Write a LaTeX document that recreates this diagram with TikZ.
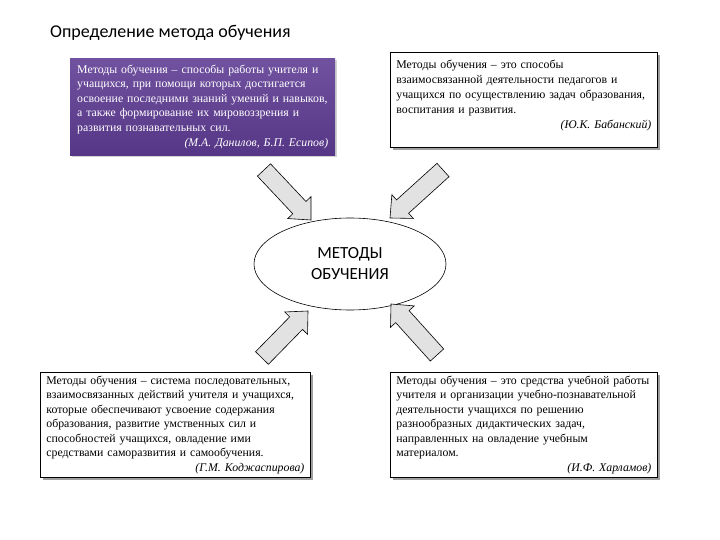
\documentclass[tikz,border=0pt]{standalone}
\usepackage{fontspec}
\setmainfont{Liberation Serif}
\newfontfamily\calib{Carlito}
\usetikzlibrary{shapes.geometric,shadows,calc}
\definecolor{purpTop}{RGB}{112,82,160}
\definecolor{purpBot}{RGB}{86,54,134}
\definecolor{arrFill}{RGB}{226,226,226}
\newcommand\myarrow[2]{%
  \coordinate (s) at ($(#2)!17pt!(#1)$);
  \draw[barrow] ($(#1)!9pt!90:(#2)$) -- ($(s)!9pt!90:(#2)$) -- ($(s)!16pt!90:(#2)$)
    -- (#2) -- ($(s)!16pt!-90:(#2)$) -- ($(s)!9pt!-90:(#2)$) -- ($(#1)!9pt!-90:(#2)$) -- cycle;}
\newcommand\lowstrut[1]{\rule[-#1]{0pt}{#1}}
\begin{document}
\begin{tikzpicture}[x=1pt,y=-1pt,
  defbox/.style={draw=black, line width=0.8pt, fill=white, anchor=north west, align=left,
    inner xsep=6pt, inner ysep=3pt,
    drop shadow={shadow xshift=2.5pt, shadow yshift=-2.5pt, fill=black!75}},
  purpbox/.style={anchor=north west, align=left, text=white, top color=purpTop, bottom color=purpBot,
    inner xsep=7pt, inner ysep=3pt,
    drop shadow={shadow xshift=1.5pt, shadow yshift=-2pt, fill=black!35}},
  barrow/.style={draw=black, line width=0.6pt, fill=arrFill, line join=miter},
  core/.style={draw=black, line width=0.6pt, ellipse, minimum width=192pt, minimum height=92pt, align=center}
]
\useasboundingbox (0,0) rectangle (720,540);

\node[anchor=west, inner sep=0pt, font=\calib\fontsize{18}{21}\selectfont] (title) at (50,33) {Определение метода обучения};

\node[purpbox, minimum width=265pt, minimum height=97pt, text width=251pt,
  font=\fontsize{11.8}{14.6}\selectfont] (danilov) at (70,58)
{Методы обучения – способы работы учителя и\\
учащихся, при помощи которых достигается\\
освоение последними знаний умений и навыков,\\
а также формирование их мировоззрения и\\
развития познавательных сил.\\
\hspace*{\fill}\textit{(М.А. Данилов, Б.П. Есипов)}};

\node[defbox, minimum width=267pt, minimum height=95pt, text width=255pt,
  font=\fontsize{11.8}{15}\selectfont] (babansky) at (390,52)
{Методы обучения – это способы\\
взаимосвязанной деятельности педагогов и\\
учащихся по осуществлению задач образования,\\
воспитания и развития.\\
\hspace*{\fill}\textit{(Ю.К. Бабанский)}\lowstrut{12pt}};

\node[defbox, minimum width=270pt, minimum height=105pt, text width=258pt,
  font=\fontsize{11.8}{14.5}\selectfont] (kodzh) at (40,372)
{Методы обучения – система последовательных,\\
взаимосвязанных действий учителя и учащихся,\\
которые обеспечивают усвоение содержания\\
образования, развитие умственных сил и\\
способностей учащихся, овладение ими\\
средствами саморазвития и самообучения.\\
\hspace*{\fill}\textit{(Г.М. Коджаспирова)}};

\node[defbox, minimum width=267pt, minimum height=105pt, text width=255pt,
  font=\fontsize{11.8}{14.5}\selectfont] (harlamov) at (390,372)
{Методы обучения – это средства учебной работы\\
учителя и организации учебно-познавательной\\
деятельности учащихся по решению\\
разнообразных дидактических задач,\\
направленных на овладение учебным\\
материалом.\\
\hspace*{\fill}\textit{(И.Ф. Харламов)}};

\node[core, font=\calib\fontsize{17}{21}\selectfont] (methods) at (350,264) {МЕТОДЫ\\ОБУЧЕНИЯ};

\coordinate (t1) at (264,170); \coordinate (h1) at (311,220);
\coordinate (t2) at (443,170); \coordinate (h2) at (390,218);
\coordinate (t3) at (262,358); \coordinate (h3) at (308,311);
\coordinate (t4) at (437,355); \coordinate (h4) at (391,304);
\myarrow{t1}{h1}
\myarrow{t2}{h2}
\myarrow{t3}{h3}
\myarrow{t4}{h4}
\end{tikzpicture}
\end{document}
